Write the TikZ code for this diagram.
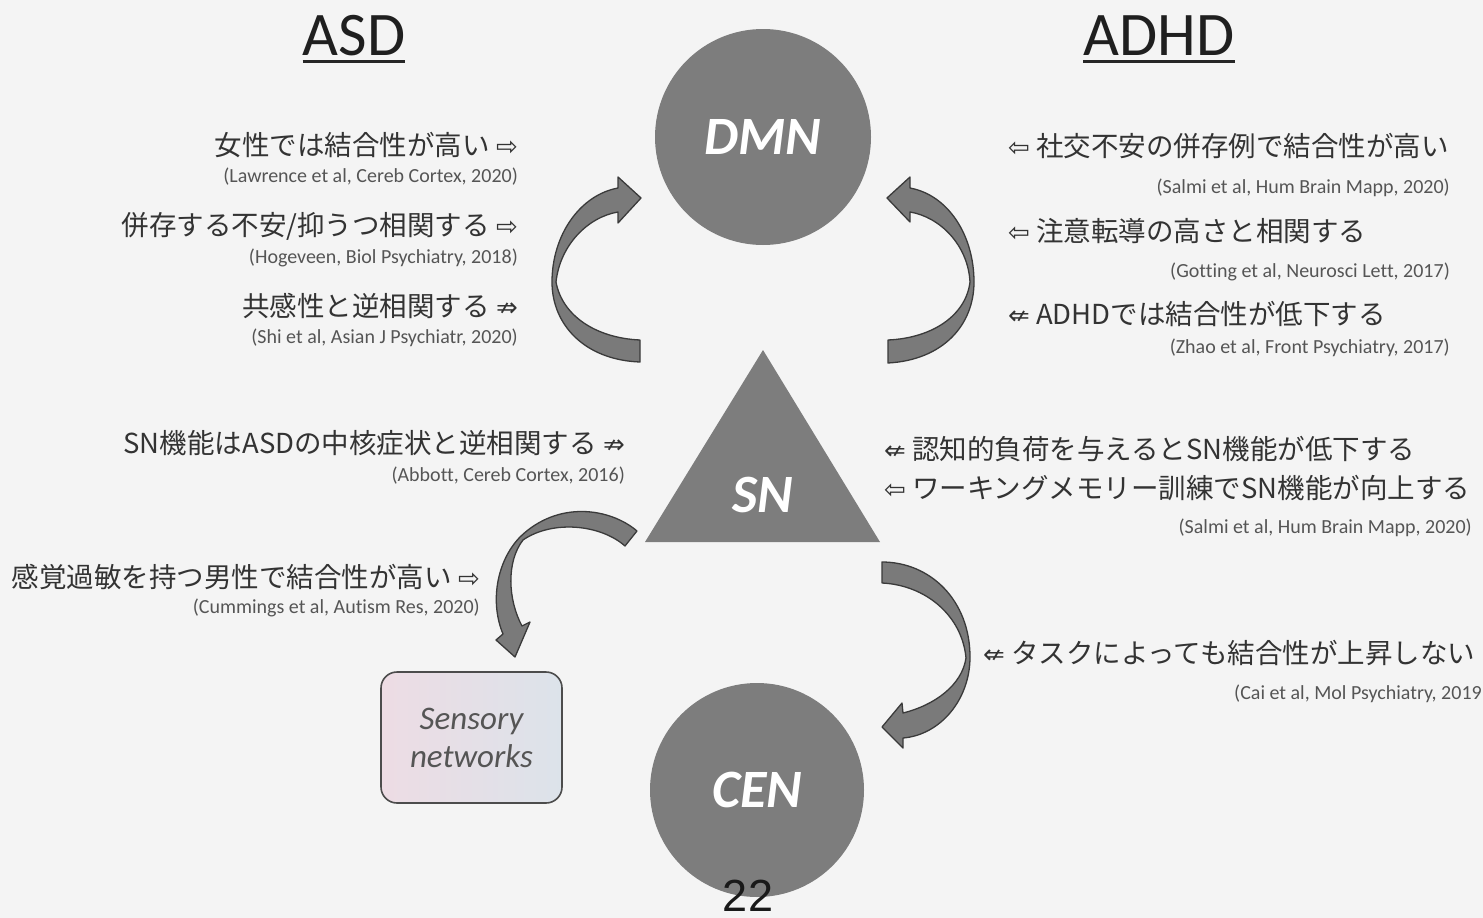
\documentclass[tikz,border=0pt]{standalone}
\usepackage{fontspec}
\setmainfont{Carlito}[Ligatures=NoCommon]
\newfontfamily\jpfont{Noto Sans CJK JP}
\newfontfamily\symfont{DejaVu Sans}
\newfontfamily\numfont{Liberation Sans}

\definecolor{bg}{HTML}{F4F4F4}
\definecolor{netgray}{HTML}{7D7D7D}
\definecolor{arrowfill}{HTML}{7A7A7A}
\definecolor{arrowline}{HTML}{3A3A3A}
\definecolor{jptext}{HTML}{333333}
\definecolor{citetext}{HTML}{555555}
\definecolor{senspink}{HTML}{EDDCE4}
\definecolor{sensblue}{HTML}{DCE3EA}
\definecolor{senstext}{HTML}{555555}

% relation marks placed before/after each finding
\newcommand\symR{{\symfont\fontsize{26}{30}\selectfont ⇨}}
\newcommand\symL{{\symfont\fontsize{26}{30}\selectfont ⇦}}
\newcommand\symNR{{\symfont\fontsize{26}{30}\selectfont ⇏}}
\newcommand\symNL{{\symfont\fontsize{26}{30}\selectfont ⇍}}

\begin{document}
\begin{tikzpicture}[x=1pt,y=-1pt,
  jp/.style={font=\jpfont\fontsize{27.5}{32}\selectfont, text=jptext, inner sep=0pt},
  cite/.style={font=\fontsize{20}{24}\selectfont, text=citetext, inner sep=0pt},
  net/.style={circle, fill=netgray, minimum size=216pt, inner sep=0pt, text=white,
    font=\bfseries\itshape\fontsize{54}{60}\selectfont},
  title/.style={font=\fontsize{62}{70}\selectfont, text=black!88, inner sep=0pt},
  blockarrow/.style={fill=arrowfill, draw=arrowline, line width=1.3pt, line join=round}]

\useasboundingbox (0,0) rectangle (1483,918);
\fill[bg] (0,0) rectangle (1483,918);

% column headings
\node[title, anchor=base] (asd) at (354,55) {ASD};
\node[title, anchor=base] (adhd) at (1159,55) {ADHD};
\draw[line width=3pt, black!85] ([yshift=-6pt]asd.base west) -- ([yshift=-6pt]asd.base east);
\draw[line width=3pt, black!85] ([yshift=-6pt]adhd.base west) -- ([yshift=-6pt]adhd.base east);

% networks
\node[net] (dmn) at (763,137) {DMN};
\fill[netgray] (763,350) -- (645,542) -- (880,542) -- cycle;
\node[text=white, font=\bfseries\itshape\fontsize{54}{60}\selectfont, inner sep=0pt] (sn) at (763,495) {SN};
\node[net, minimum size=214pt] (cen) at (757,790) {CEN};

\node[draw=black!70, line width=1.6pt, rounded corners=16pt, minimum width=181pt,
  minimum height=131pt, left color=senspink, right color=sensblue, text=senstext,
  align=center, font=\itshape\fontsize{33}{38}\selectfont] (sens) at (471.5,737.5)
  {Sensory\\networks};

% page number
\node[font=\numfont\fontsize{45}{50}\selectfont, text=black!90, anchor=base, inner sep=0pt]
  (pagenum) at (748,911) {22};

% curved block arrows: SN -> DMN (left)
\filldraw[blockarrow] (640,362)
  .. controls (585,360) and (552,325) .. (552,282)
  .. controls (552,235) and (580,195) .. (618,188)
  -- (618,177) -- (641,198) -- (618,223) -- (618,212)
  .. controls (588,217) and (560,245) .. (556,282)
  .. controls (562,315) and (595,338) .. (640,340) -- cycle;

% SN -> DMN (right)
\filldraw[blockarrow] (888,363)
  .. controls (943,360) and (974,325) .. (974,282)
  .. controls (974,235) and (948,195) .. (910,188)
  -- (910,177) -- (887,198) -- (910,222) -- (910,212)
  .. controls (940,217) and (968,245) .. (970,282)
  .. controls (966,315) and (933,338) .. (888,340) -- cycle;

% SN -> sensory networks
\filldraw[blockarrow] (637,531)
  .. controls (610,508) and (558,500) .. (520,537)
  .. controls (496,562) and (490,603) .. (503,634)
  -- (496,640) -- (515,657) -- (530,622) -- (522,626)
  .. controls (508,600) and (506,562) .. (523,540)
  .. controls (552,520) and (600,524) .. (625,546) -- cycle;

% SN -> CEN
\filldraw[blockarrow] (882,562)
  .. controls (930,562) and (970,600) .. (970,657)
  .. controls (970,700) and (940,735) .. (903,738)
  -- (903,748) -- (882,727) -- (902,703) -- (903,713)
  .. controls (935,705) and (962,685) .. (966,658)
  .. controls (962,615) and (925,585) .. (882,583) -- cycle;

% ASD findings
\node[jp, anchor=east] (a1) at (518,145) {女性では結合性が高い \symR};
\node[cite, anchor=east] (a1c) at (518,177) {(Lawrence et al, Cereb Cortex, 2020)};
\node[jp, anchor=east] (a2) at (518,226) {併存する不安/抑うつ相関する \symR};
\node[cite, anchor=east] (a2c) at (518,258) {(Hogeveen, Biol Psychiatry, 2018)};
\node[jp, anchor=east] (a3) at (518,306) {共感性と逆相関する \symNR};
\node[cite, anchor=east] (a3c) at (518,338) {(Shi et al, Asian J Psychiatr, 2020)};
\node[jp, anchor=east] (a4) at (625,443) {SN機能はASDの中核症状と逆相関する \symNR};
\node[cite, anchor=east] (a4c) at (625,476) {(Abbott, Cereb Cortex, 2016)};
\node[jp, anchor=east] (a5) at (480,577) {感覚過敏を持つ男性で結合性が高い \symR};
\node[cite, anchor=east] (a5c) at (480,608) {(Cummings et al, Autism Res, 2020)};

% ADHD findings
\node[jp, anchor=west] (b1) at (1008,146) {\symL\ 社交不安の併存例で結合性が高い};
\node[cite, anchor=east] (b1c) at (1450,188) {(Salmi et al, Hum Brain Mapp, 2020)};
\node[jp, anchor=west] (b2) at (1008,231) {\symL\ 注意転導の高さと相関する};
\node[cite, anchor=east] (b2c) at (1450,272) {(Gotting et al, Neurosci Lett, 2017)};
\node[jp, anchor=west] (b3) at (1008,314) {\symNL\ ADHDでは結合性が低下する};
\node[cite, anchor=east] (b3c) at (1450,348) {(Zhao et al, Front Psychiatry, 2017)};
\node[jp, anchor=west] (b4) at (884,449) {\symNL\ 認知的負荷を与えるとSN機能が低下する};
\node[jp, anchor=west] (b5) at (884,488) {\symL\ ワーキングメモリー訓練でSN機能が向上する};
\node[cite, anchor=east] (b5c) at (1472,528) {(Salmi et al, Hum Brain Mapp, 2020)};
\node[jp, anchor=west] (b6) at (983,653) {\symNL\ タスクによっても結合性が上昇しない};
\node[cite, anchor=east] (b6c) at (1482,694) {(Cai et al, Mol Psychiatry, 2019};

\end{tikzpicture}
\end{document}
